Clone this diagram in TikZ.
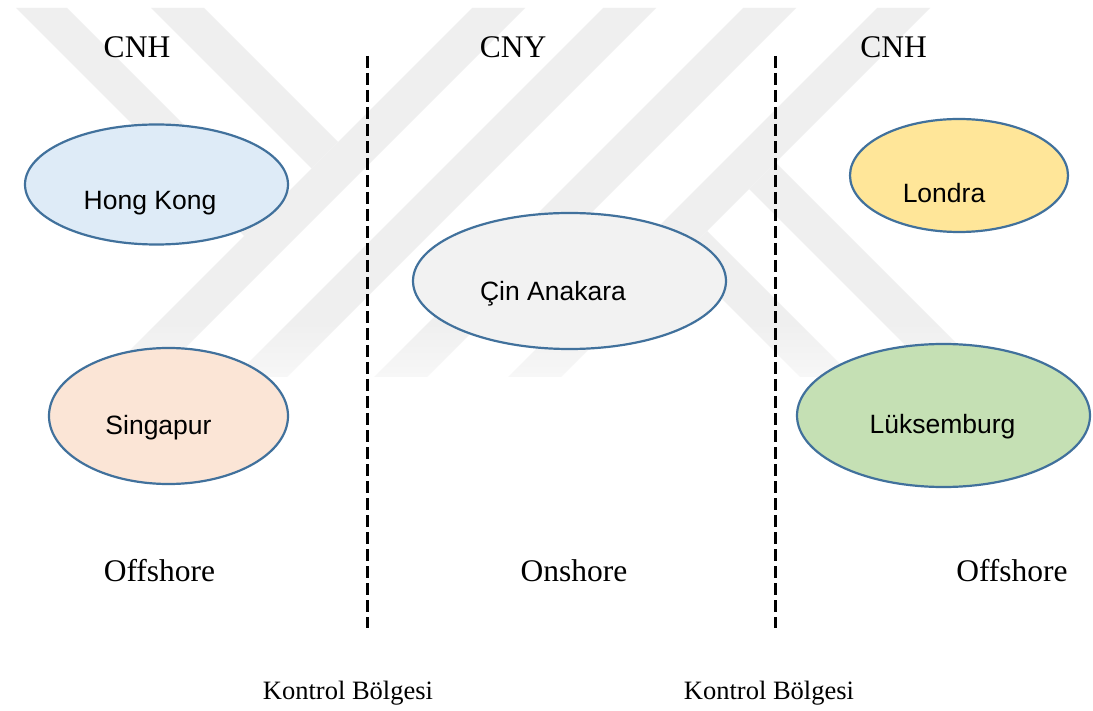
\documentclass[tikz,border=0pt]{standalone}
\usepackage{fontspec}
\setmainfont{Liberation Serif}
\newfontfamily\arialfont{Liberation Sans}
\usetikzlibrary{shapes.geometric,fadings}

\definecolor{wmark}{RGB}{239,239,239}
\definecolor{edgeblue}{RGB}{65,113,156}
\definecolor{hkfill}{RGB}{222,235,247}
\definecolor{sgfill}{RGB}{251,229,214}
\definecolor{cnfill}{RGB}{242,242,242}
\definecolor{ldfill}{RGB}{255,230,153}
\definecolor{lxfill}{RGB}{197,224,180}

% white veil that thickens towards the lower end of the emblem
\tikzfading[name=veildown, top color=transparent!100, bottom color=transparent!45]

\begin{document}
\begin{tikzpicture}[x=1pt,y=-1pt,
  region/.style={ellipse, draw=edgeblue, line width=2.2pt, inner sep=0pt, outer sep=0pt},
  city/.style={font=\arialfont\fontsize{26.5}{30}\selectfont, anchor=base, inner sep=0pt},
  currency/.style={font=\fontsize{31.5}{36}\selectfont, anchor=base, inner sep=0pt},
  zone/.style={font=\fontsize{31.5}{36}\selectfont, anchor=base, inner sep=0pt},
  control/.style={font=\fontsize{26.5}{30}\selectfont, anchor=base, inner sep=0pt},
  border/.style={dash pattern=on 12pt off 5pt, line width=3.2pt},
  stripe/.style={fill=wmark, draw=none}
]
% canvas
\useasboundingbox (0,0) rectangle (1093,711);
\fill[white] (0,0) rectangle (1093,711);

% background emblem made of diagonal stripes
\fill[stripe] (16,8) -- (67,8) -- (269.5,210.5) -- (244,236) -- cycle;
\fill[stripe] (151,8) -- (204,8) -- (338,142) -- (311.5,168.5) -- cycle;
\fill[stripe] (472,8) -- (525,8) -- (156,377) -- (103,377) -- cycle;
\fill[stripe] (603,8) -- (656,8) -- (287,377) -- (234,377) -- cycle;
\fill[stripe] (743,8) -- (796,8) -- (427,377) -- (374,377) -- cycle;
\fill[stripe] (877,8) -- (930,8) -- (561,377) -- (508,377) -- cycle;
\fill[stripe] (775.5,162.5) -- (990,377) -- (937,377) -- (749,189) -- cycle;
\fill[stripe] (707,231) -- (853,377) -- (800,377) -- (680.5,257.5) -- cycle;
\fill[white, path fading=veildown] (0,320) rectangle (1093,378);

% currency headings
\node[currency] (cnhL) at (137,57.3) {CNH};
\node[currency] (cny)  at (513,57.3) {CNY};
\node[currency] (cnhR) at (893.5,57.3) {CNH};

% control borders
\coordinate (b1top) at (367.5,56);
\coordinate (b1bot) at (367.5,628);
\coordinate (b2top) at (775.5,56);
\coordinate (b2bot) at (775.5,628);
\draw[border] (b1top) -- (b1bot);
\draw[border] (b2top) -- (b2bot);

% financial centres
\node[region, fill=hkfill, minimum width=263pt, minimum height=120pt] (hk) at (156.5,184.5) {};
\node[region, fill=sgfill, minimum width=239pt, minimum height=136pt] (sg) at (168.5,416) {};
\node[region, fill=cnfill, minimum width=313pt, minimum height=136pt] (cn) at (569.5,281) {};
\node[region, fill=ldfill, minimum width=218pt, minimum height=113pt] (ld) at (959,175.5) {};
\node[region, fill=lxfill, minimum width=293pt, minimum height=143pt] (lx) at (943.5,415.5) {};

\node[city] (hkt) at (150,210) {Hong Kong};
\node[city] (sgt) at (158.5,435) {Singapur};
\node[city] (cnt) at (553,300.7) {Çin Anakara};
\node[city] (ldt) at (944,203) {Londra};
\node[city] (lxt) at (942.5,433) {Lüksemburg};

% market zones
\node[zone] (offL) at (159.5,581) {Offshore};
\node[zone] (on)   at (574,581) {Onshore};
\node[zone] (offR) at (1012,581) {Offshore};

% control region labels
\node[control] (ctlL) at (348,699) {Kontrol Bölgesi};
\node[control] (ctlR) at (769,699) {Kontrol Bölgesi};
\end{tikzpicture}
\end{document}
